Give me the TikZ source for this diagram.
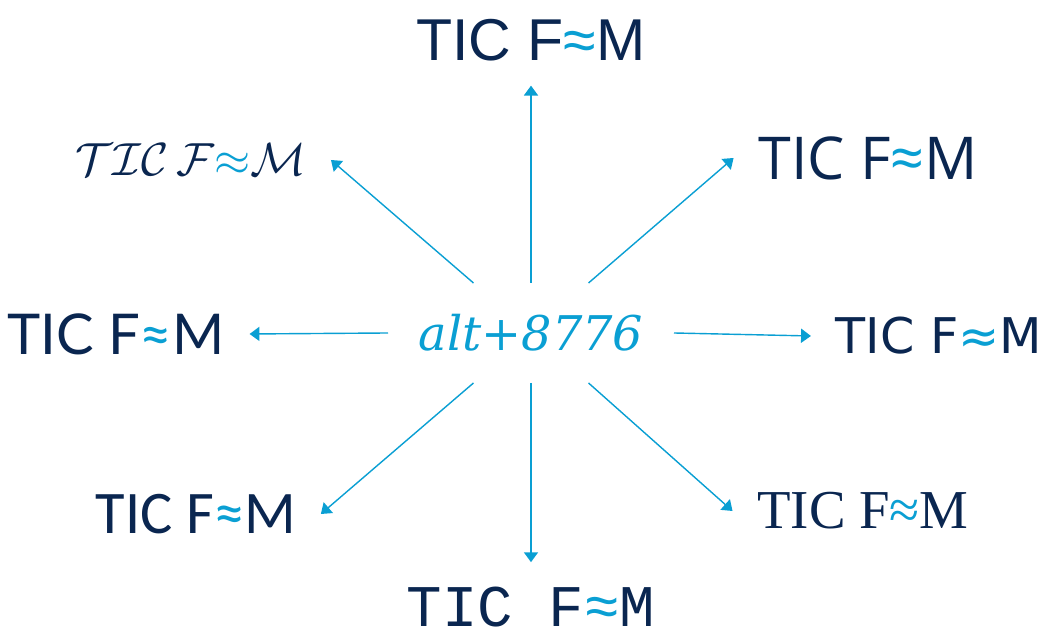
\RequirePackage{fix-cm}
\documentclass[tikz,border=0pt]{standalone}
\usepackage{fontspec}
\usetikzlibrary{arrows.meta}
\definecolor{navy}{HTML}{0A2650}
\definecolor{sky}{HTML}{0A9FD3}
\newfontfamily\libsans{Liberation Sans}
\newfontfamily\opensans{Open Sans}
\newfontfamily\lato{Lato}
\newfontfamily\dejavu{DejaVu Sans}
\newfontfamily\carlito{Carlito}
\newfontfamily\libserif{Liberation Serif}
\newfontfamily\libmono{Liberation Mono}
\newfontfamily\dejaserif{DejaVu Serif}
\begin{document}
\begin{tikzpicture}[
		every node/.style={text=navy, inner sep=0, outer sep=0.62cm},
		arr/.style={draw=sky, line width=1pt, -{Triangle[length=7pt,width=10pt]}},
	]
	\useasboundingbox (0,0) rectangle (26.225,15.975);
	\node[text=sky, minimum width=7.15cm, minimum height=2.5cm, outer sep=0,
		font=\dejaserif\itshape\fontsize{34}{40}\selectfont] (key) at (13.275,7.65) {alt+8776};
	\node[font=\libsans\fontsize{42}{50}\selectfont] (top) at (13.275,14.975) {TIC F\textcolor{sky}{≈}M};
	\node[font=\fontsize{33}{40}\selectfont] (topleft) at (4.775,11.975) {$\mathcal{TIC}\,\mathcal{F}\textcolor{sky}{\approx}\mathcal{M}$};
	\node[font=\opensans\fontsize{42}{50}\selectfont] (topright) at (21.7,12.025) {TIC F\textcolor{sky}{≈}M};
	\node[font=\lato\fontsize{40}{48}\selectfont] (left) at (2.9,7.625) {TIC F\textcolor{sky}{≈}M};
	\node[font=\dejavu\fontsize{35}{42}\selectfont] (right) at (23.475,7.575) {TIC F\textcolor{sky}{≈}M};
	\node[font=\carlito\fontsize{43}{50}\selectfont] (botleft) at (4.9,3.125) {TIC F\textcolor{sky}{≈}M};
	\node[font=\libserif\fontsize{39}{46}\selectfont] (botright) at (21.575,3.2) {TIC F\textcolor{sky}{≈}M};
	\node[font=\libmono\fontsize{42}{50}\selectfont] (bottom) at (13.275,0.8) {TIC F\textcolor{sky}{≈}M};
	\draw[arr] (key.north) -- (top.south);
	\draw[arr] (key.139) -- (topleft.east);
	\draw[arr] (key.41) -- (topright.west);
	\draw[arr] (key.west) -- (left.east);
	\draw[arr] (key.east) -- (right.west);
	\draw[arr] (key.-139) -- (botleft.east);
	\draw[arr] (key.-41) -- (botright.west);
	\draw[arr] (key.south) -- (bottom.north);
\end{tikzpicture}
\end{document}
